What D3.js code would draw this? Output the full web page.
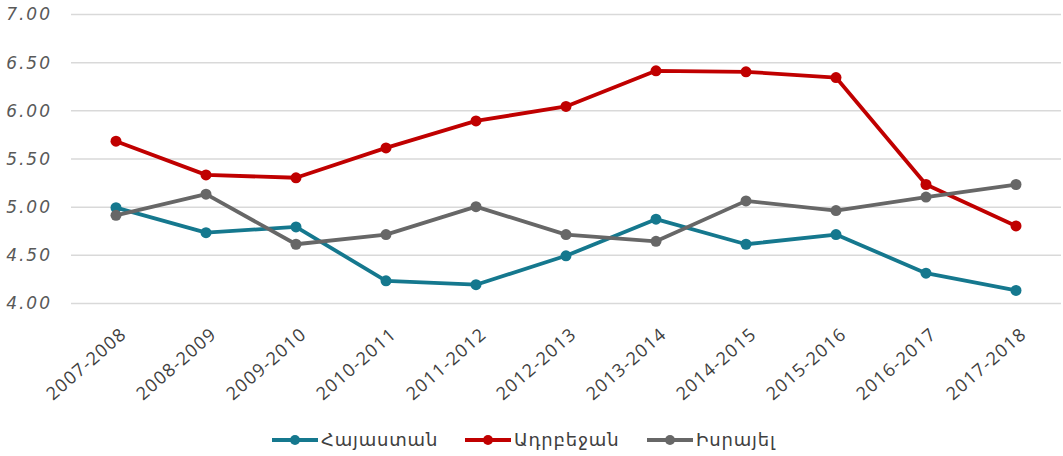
<!DOCTYPE html>
<html>
<head>
<meta charset="utf-8">
<script src="https://cdn.jsdelivr.net/npm/d3@7"></script>
<style>
  body { margin: 0; background: #fff; }
</style>
</head>
<body>
<div id="chart"></div>
<script>
"use strict";

/* DATA */

// school years on the x axis
let seasons = ["2007-2008", "2008-2009", "2009-2010", "2010-2011", "2011-2012", "2012-2013",
    "2013-2014", "2014-2015", "2015-2016", "2016-2017", "2017-2018"];

// series names (as in the legend)
let seriesNames = ["Հայաստան", "Ադրբեջան", "Իսրայել"];

// values
let armenia = [4.99, 4.73, 4.79, 4.23, 4.19, 4.49, 4.87, 4.61, 4.71, 4.31, 4.13];
let azerbaijan = [5.68, 5.33, 5.30, 5.61, 5.89, 6.04, 6.41, 6.40, 6.34, 5.23, 4.80];
let israel = [4.91, 5.13, 4.61, 4.71, 5.00, 4.71, 4.64, 5.06, 4.96, 5.10, 5.23];

// y axis tick labels
let yTicks = [4.0, 4.5, 5.0, 5.5, 6.0, 6.5, 7.0];


/* SVG SETUP */

let svgWidth = 1063;
let svgHeight = 456;

let svg = d3.select("#chart")
    .append("svg")
    .attr("width", svgWidth)
    .attr("height", svgHeight);

let colors = ["#15788e", "#c00000", "#676767"];
let allSeries = [armenia, azerbaijan, israel];


/* SCALES */

let xScale = d3.scalePoint()
    .domain(seasons)
    .range([71, 1061])
    .padding(0.5);

let yScale = d3.scaleLinear()
    .domain([4, 7])
    .range([303, 14]);


/* GRID + Y LABELS */

let yAxis = svg.append("g")
    .attr("transform", "translate(71,0)")
    .call(d3.axisLeft(yScale)
        .tickValues(yTicks)
        .tickFormat(d3.format(".2f"))
        .tickSize(-(1061 - 71))
        .tickPadding(19));

yAxis.select(".domain").remove();
yAxis.selectAll(".tick line")
    .attr("stroke", "#d9d9d9")
    .attr("stroke-width", 1.5);
yAxis.selectAll(".tick text")
    .attr("fill", "#595959")
    .attr("font-family", "DejaVu Sans")
    .attr("font-style", "italic")
    .attr("font-size", "17px")
    .attr("letter-spacing", "2px")
    .attr("dy", "0.35em");


/* X LABELS */

let xAxis = svg.append("g")
    .attr("transform", "translate(0,303)")
    .call(d3.axisBottom(xScale).tickSize(0));

xAxis.select(".domain").remove();
xAxis.selectAll(".tick text")
    .attr("fill", "#404040")
    .attr("font-family", "Open Sans")
    .attr("font-size", "18px")
    .attr("letter-spacing", "1.2px")
    .attr("text-anchor", "end")
    .attr("transform", "translate(5,26) rotate(-41)")
    .attr("dy", "0.35em");


/* LINES + MARKERS */

let line = d3.line()
    .x((d, i) => xScale(seasons[i]))
    .y(d => yScale(d));

// draw in order: teal, red, gray (gray ends on top)
for (let s = 0; s < allSeries.length; s++) {

    svg.append("path")
        .datum(allSeries[s])
        .attr("d", line)
        .attr("fill", "none")
        .attr("stroke", colors[s])
        .attr("stroke-width", 3.8)
        .attr("stroke-linejoin", "round");

    svg.selectAll(".dot" + s)
        .data(allSeries[s])
        .enter()
        .append("circle")
        .attr("cx", (d, i) => xScale(seasons[i]))
        .attr("cy", d => yScale(d))
        .attr("r", 5.5)
        .attr("fill", colors[s]);
}


/* LEGEND */

let legendX = [272, 465, 647];
let legendY = 440;

for (let s = 0; s < seriesNames.length; s++) {

    svg.append("line")
        .attr("x1", legendX[s])
        .attr("x2", legendX[s] + 46)
        .attr("y1", legendY)
        .attr("y2", legendY)
        .attr("stroke", colors[s])
        .attr("stroke-width", 3.8);

    svg.append("circle")
        .attr("cx", legendX[s] + 23)
        .attr("cy", legendY)
        .attr("r", 5)
        .attr("fill", colors[s]);

    svg.append("text")
        .attr("x", legendX[s] + 49)
        .attr("y", legendY)
        .attr("dy", "0.35em")
        .attr("fill", "#404040")
        .attr("font-family", "DejaVu Sans")
        .attr("font-size", "18px")
        .attr("letter-spacing", "0.8px")
        .text(seriesNames[s]);
}
</script>
</body>
</html>
